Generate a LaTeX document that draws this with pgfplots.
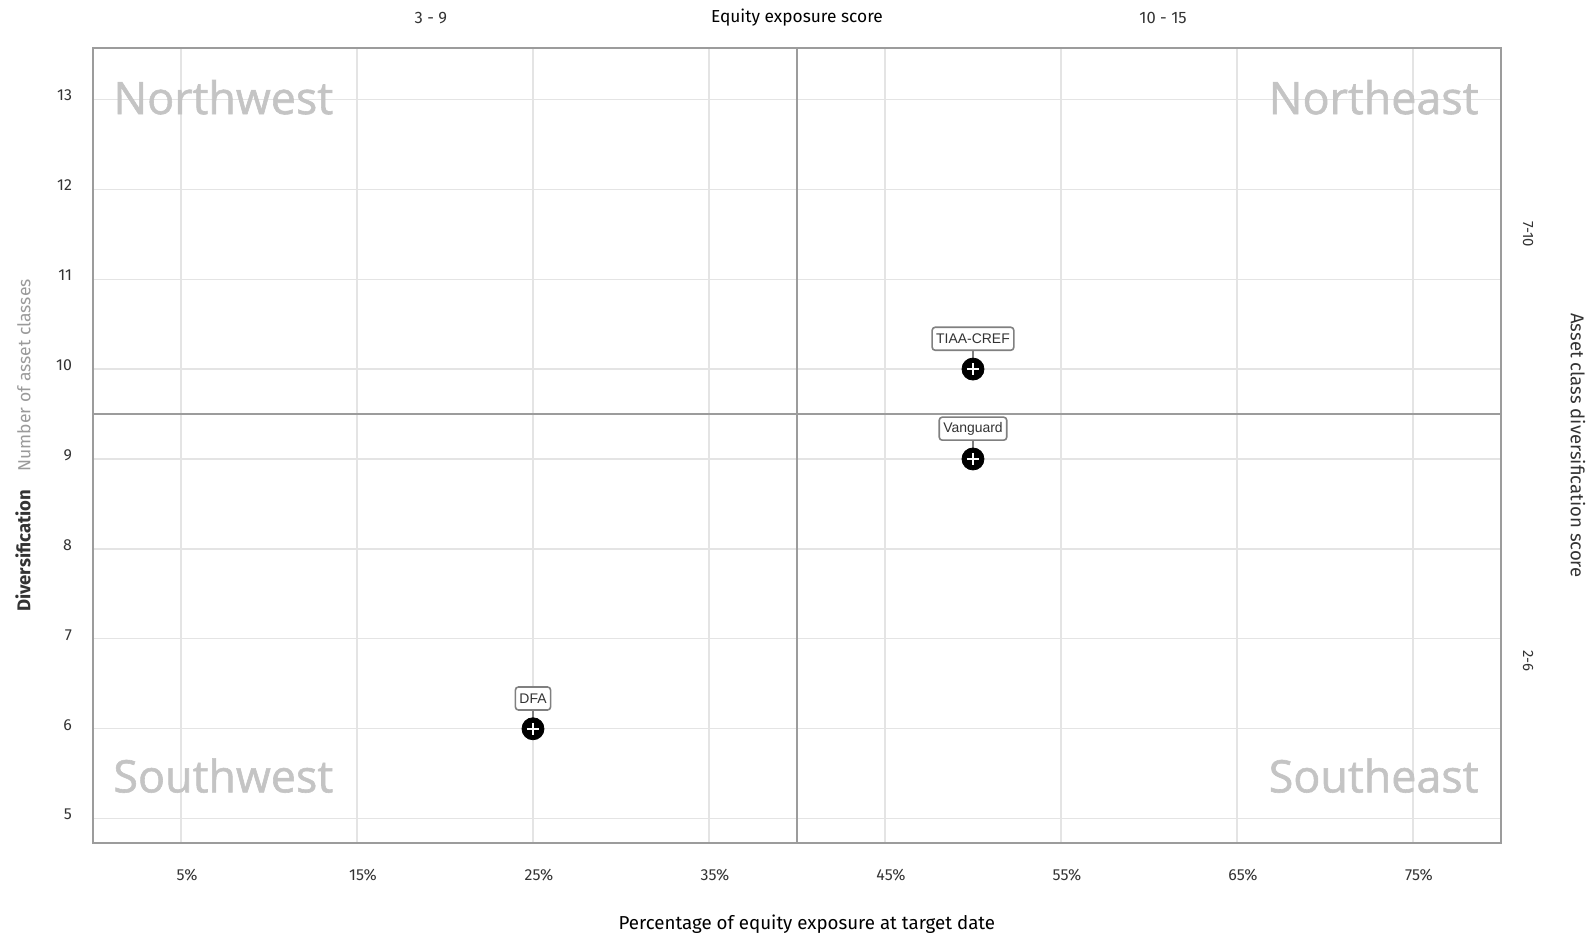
\documentclass[border=0pt]{standalone}
\usepackage{pgfplots}
\pgfplotsset{compat=1.18}
\usepackage{pgfplotstable}
\usepackage{fontspec}
\setmainfont{Fira Sans}
\newfontfamily\quadfont[FakeBold=1.3]{Open Sans}
\newfontfamily\boxfont{Liberation Sans}
\definecolor{gridc}{HTML}{E4E4E4}
\definecolor{framec}{HTML}{9C9C9C}
\definecolor{txt}{HTML}{333333}
\definecolor{quad}{HTML}{C4C4C4}
\definecolor{subt}{HTML}{9A9A9A}

\pgfplotstableread{
x y name
25 6 DFA
50 10 TIAA-CREF
50 9 Vanguard
}\funds

\begin{document}
\begin{tikzpicture}
\begin{axis}[
  scale only axis, width=704bp, height=397.5bp,
  xmin=0, xmax=80, ymin=4.73, ymax=13.57,
  xtick={5,15,...,75},
  xticklabels={5\%,15\%,25\%,35\%,45\%,55\%,65\%,75\%},
  ytick={5,6,...,13},
  yticklabels={5,6,7,8,9,10,11,12,13},
  tick style={draw=none},
  grid=major, grid style={gridc, line width=0.6bp},
  axis line style={framec, line width=1bp},
  xticklabel style={font=\fontsize{8}{9}\selectfont, text=txt, yshift=-9.5bp, xshift=3bp},
  yticklabel style={font=\fontsize{8}{9}\selectfont, text=txt, xshift=-7bp, yshift=2bp},
  clip=false,
]
% quadrant dividers
\addplot[framec, line width=0.8bp, forget plot] coordinates {(40,4.73) (40,13.57)};
\addplot[framec, line width=0.8bp, forget plot] coordinates {(0,9.5) (80,9.5)};

% quadrant names
\node[anchor=west, font=\quadfont\fontsize{22.5}{24}\selectfont, text=quad, inner sep=0pt]
  at ([xshift=10bp, yshift=1bp]axis cs:0,13) {Northwest};
\node[anchor=east, font=\quadfont\fontsize{22.5}{24}\selectfont, text=quad, inner sep=0pt]
  at ([xshift=-11bp, yshift=1bp]axis cs:80,13) {Northeast};
\node[anchor=west, font=\quadfont\fontsize{22.5}{24}\selectfont, text=quad, inner sep=0pt]
  at ([xshift=10bp]axis cs:0,5.48) {Southwest};
\node[anchor=east, font=\quadfont\fontsize{22.5}{24}\selectfont, text=quad, inner sep=0pt]
  at ([xshift=-11bp]axis cs:80,5.48) {Southeast};

% connectors
\addplot[forget plot, draw=none, mark=none,
  error bars/.cd, y dir=plus, y fixed=0.2, error mark=none,
  error bar style={gray, line width=0.8bp}]
  table[x=x, y=y] {\funds};

% markers with labels
\addplot[only marks, mark=*, mark size=5.5bp, black,
  nodes near coords, point meta=explicit symbolic,
  every node near coord/.style={draw=gray, fill=white, rounded corners=1.5bp,
    line width=0.8bp, font=\boxfont\fontsize{7}{7}\selectfont, text=txt,
    inner xsep=2bp, inner ysep=1.5bp, minimum height=11.5bp, anchor=south, yshift=9bp}]
  table[x=x, y=y, meta=name] {\funds};
\addplot[only marks, mark=+, mark size=3bp, white, line width=1.2bp]
  table[x=x, y=y] {\funds};

% top labels
\node[font=\fontsize{8.3}{9}\selectfont, text=txt] at ([yshift=15bp]axis cs:19.2,13.57) {3 - 9};
\node[font=\fontsize{8.7}{9}\selectfont, text=black] at ([yshift=15bp]axis cs:40,13.57) {Equity exposure score};
\node[font=\fontsize{8.3}{9}\selectfont, text=txt] at ([yshift=15bp]axis cs:60.8,13.57) {10 - 15};

% right labels
\node[rotate=-90, font=\fontsize{7.5}{9}\selectfont, text=txt] at ([xshift=13.5bp]axis cs:80,11.5) {7-10};
\node[rotate=-90, font=\fontsize{7.5}{9}\selectfont, text=txt] at ([xshift=13.5bp]axis cs:80,6.75) {2-6};
\node[rotate=-90, font=\fontsize{9.3}{10}\selectfont, text=txt] at ([xshift=38.5bp]rel axis cs:1,0.5) {Asset class diversification score};

% left label
\node[rotate=90, font=\fontsize{9.3}{10}\selectfont, text=txt] at ([xshift=-35bp]rel axis cs:0,0.5)
  {\textbf{Diversification}\quad{\color{subt}\fontsize{8.8}{10}\selectfont Number of asset classes}};

% bottom label
\node[font=\fontsize{9.4}{10}\selectfont, text=black] at ([yshift=-40.5bp]rel axis cs:0.507,0) {Percentage of equity exposure at target date};
\end{axis}
\pgfresetboundingbox
\path[use as bounding box] (-46.5bp,-46.5bp) rectangle (751bp,421.5bp);
\end{tikzpicture}
\end{document}
